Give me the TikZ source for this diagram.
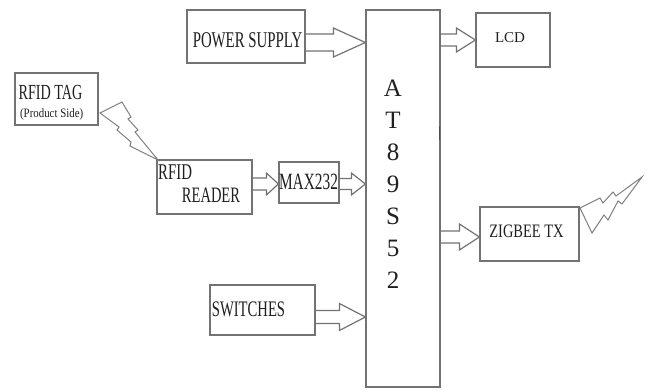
\documentclass[tikz,border=0pt]{standalone}
\usepackage{fontspec}
\setmainfont{Liberation Serif}
\newfontfamily\condA[FakeStretch=0.66]{Liberation Serif}
\newfontfamily\condB[FakeStretch=0.76]{Liberation Serif}
\newfontfamily\condC[FakeStretch=0.85]{Liberation Serif}
\usetikzlibrary{calc}
\tikzset{
  box/.style={draw=black!55, line width=1.2pt, inner sep=0pt, fill=white},
  blk/.style={draw=black!55, line width=1.2pt, line join=miter},
  bolt/.style={draw=black!50, line width=1pt, line join=miter},
  txt/.style={inner sep=0pt, text=black!88, anchor=base},
}
\newcommand\blockarr[5]{%
  \draw[blk] let \p1=#1, \p2=#2 in
    (\x1,\y2+#4) -- (\x2-#3,\y2+#4) -- (\x2-#3,\y2+#5) -- (\x2,\y2)
    -- (\x2-#3,\y2-#5) -- (\x2-#3,\y2-#4) -- (\x1,\y2-#4);}
\begin{document}
\begin{tikzpicture}[x=1pt,y=-1pt]
\useasboundingbox (0,0) rectangle (649,390);
\fill[white] (0,0) rectangle (649,390);
% boxes
\node[box, minimum width=118pt, minimum height=53pt] (ps) at (246,36.5) {};
\node[box, minimum width=74pt, minimum height=54pt] (lcd) at (513,40) {};
\node[box, minimum width=74pt, minimum height=377pt] (at) at (403,198.5) {};
\node[box, minimum width=83pt, minimum height=52pt] (tag) at (56.5,99) {};
\node[box, minimum width=95pt, minimum height=54pt] (rdr) at (204.5,187) {};
\node[box, minimum width=60pt, minimum height=41pt] (max) at (309,182.5) {};
\node[box, minimum width=105pt, minimum height=50pt] (sw) at (262.5,310) {};
\node[box, minimum width=99pt, minimum height=54pt] (zig) at (529.5,234) {};
% texts
\node[txt, font=\condA\fontsize{22.5}{24}\selectfont] (pst) at (247.5,47.5) {POWER SUPPLY};
\node[txt, font=\fontsize{15}{18}\selectfont] (lcdt) at (510,43) {LCD};
\node[txt, font=\condA\fontsize{21.5}{24}\selectfont] (tagt) at (50.5,100) {RFID TAG};
\node[txt, font=\condC\fontsize{12.8}{15}\selectfont] (tags) at (51.7,118) {(Product Side)};
\node[txt, anchor=base west, font=\condA\fontsize{22.5}{24}\selectfont] (rdt1) at (158,180) {RFID};
\node[txt, font=\condA\fontsize{22}{24}\selectfont] (rdt2) at (211,203) {READER};
\node[txt, font=\condA\fontsize{23.3}{24}\selectfont] (maxt) at (308.5,190) {MAX232};
\node[txt, font=\condA\fontsize{22.2}{24}\selectfont] (swt) at (248.5,317) {SWITCHES};
\node[txt, font=\condB\fontsize{19}{22}\selectfont] (zigt) at (526.5,238) {ZIGBEE TX};
\foreach \c [count=\i from 0] in {A,T,8,9,S,5,2}
  \node[txt, font=\fontsize{25}{28}\selectfont] (atl\i) at (393,96.5+32*\i) {\c};
% tip coordinates on the controller / targets
\coordinate (psin) at (at.west |- 0,42.5);
\coordinate (maxin) at (max.west |- 0,184);
\coordinate (mxin) at (at.west |- 0,184);
\coordinate (swin) at (at.west |- 0,317);
\coordinate (lcdin) at (lcd.west |- 0,40);
\coordinate (zigin) at (zig.west |- 0,237);
% block arrows
\blockarr{(ps.east)}{(psin)}{32pt}{8.5pt}{14.5pt}
\blockarr{(rdr.east)}{(maxin)}{12pt}{6pt}{11pt}
\blockarr{(max.east)}{(mxin)}{14pt}{5.5pt}{11pt}
\blockarr{(sw.east)}{(swin)}{26pt}{6.5pt}{13.5pt}
\blockarr{(at.east |- lcdin)}{(lcdin)}{19pt}{6pt}{12pt}
\blockarr{(at.east |- zigin)}{(zigin)}{20pt}{6pt}{13pt}
% lightning bolts
\draw[bolt] (100,113) -- (122,102) -- (131,117) -- (128,119) -- (138,130)
  -- (135,132) -- (158,160) -- (130,146) -- (131,142) -- (117,130)
  -- (119,127) -- cycle;
\draw[bolt] (580,208) -- (600,198) -- (603,203) -- (613,192) -- (616,196)
  -- (642,177) -- (622,204) -- (618,201) -- (608,220) -- (604,215)
  -- (592,233) -- cycle;
% small mark on controller edge
\draw[black!70, line width=1.8pt] (439.5,126) -- (439.5,140);
\end{tikzpicture}
\end{document}
